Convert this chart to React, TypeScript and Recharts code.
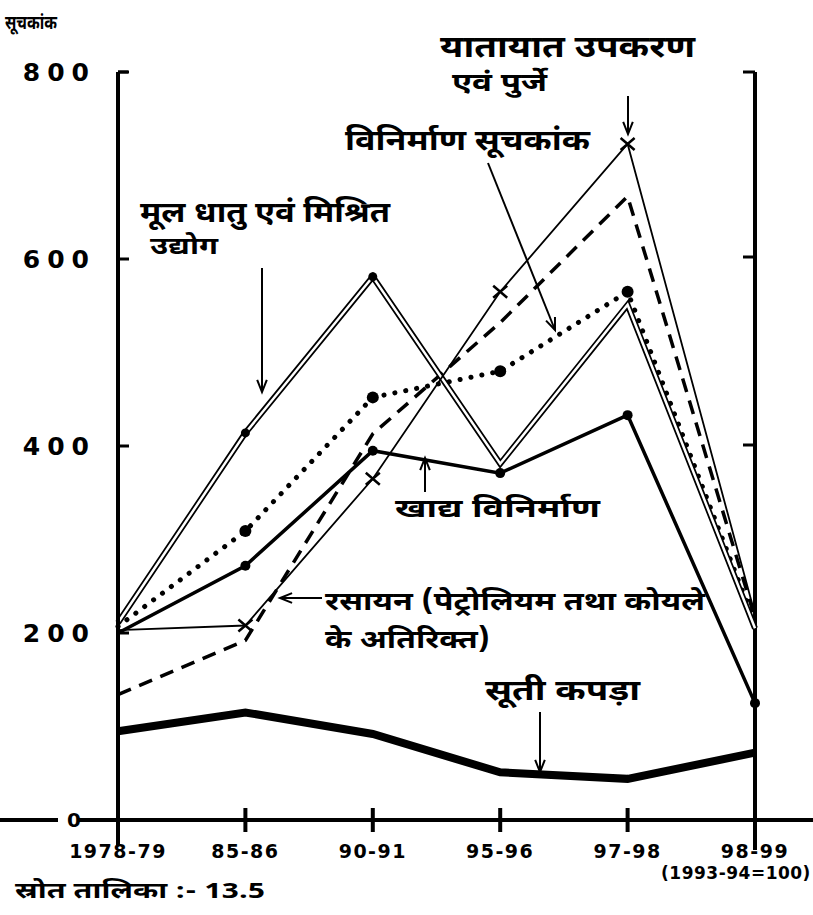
import React from 'react';
import { LineChart, Line, XAxis, YAxis, ReferenceLine } from 'recharts';

// index values, 1993-94 = 100
const years = ['1978-79', '85-86', '90-91', '95-96', '97-98', '98-99'];
const transport = [203, 208, 365, 565, 723, 220];
const chemicals = [134, 192, 413, 532, 667, 216];
const basicMetals = [211, 414, 581, 381, 551, 205];
const manufacturing = [207, 309, 452, 480, 565, 210];
const food = [200, 272, 395, 371, 433, 125];
const cotton = [95, 115, 92, 51, 44, 72];
const yTicks = [0, 200, 400, 600, 800];

const data = years.map((year, i) => ({
  year,
  transport: transport[i],
  chemicals: chemicals[i],
  basicMetals: basicMetals[i],
  basicMetalsInner: basicMetals[i],
  manufacturing: manufacturing[i],
  food: food[i],
  cotton: cotton[i],
}));

const HINDI = "'Noto Sans Devanagari', 'Lohit Devanagari', 'Noto Sans', sans-serif";
const NUM = "'DejaVu Sans', sans-serif";

const Cross = (props: any) => {
  const { cx, cy, index } = props;
  if (cx == null || index === 0 || index === 5) return <g key={index} />;
  return (
    <path key={index} d={`M${cx - 7},${cy - 6}L${cx + 7},${cy + 6}M${cx - 7},${cy + 6}L${cx + 7},${cy - 6}`}
      stroke="#000" strokeWidth={2.5} fill="none" />
  );
};

const dotAt = (skip: number[], r: number) => (props: any) => {
  const { cx, cy, index } = props;
  if (cx == null || skip.includes(index)) return <g key={index} />;
  return <circle key={index} cx={cx} cy={cy} r={r} fill="#000" />;
};

const YTick = (props: any) => {
  const { x, y, payload } = props;
  if (payload.value === 0) {
    return (
      <text x={x - 22} y={y + 7} textAnchor="middle" fontFamily={NUM} fontWeight="bold" fontSize={20}>0</text>
    );
  }
  return (
    <g>
      <text x={x} y={y + 9} textAnchor="end" fontFamily={NUM} fontWeight="bold" fontSize={25} letterSpacing={7}>
        {payload.value}
      </text>
      <line x1={x + 22} x2={x + 33} y1={y} y2={y} stroke="#000" strokeWidth={3} />
    </g>
  );
};

const XTick = (props: any) => {
  const { x, y, payload } = props;
  return (
    <g>
      <line x1={x} x2={x} y1={y - 38} y2={y - 14} stroke="#000" strokeWidth={4} />
      <text x={x} y={y + 12} textAnchor="middle" fontFamily={NUM} fontWeight="bold" fontSize={19} letterSpacing={1.5}>
        {payload.value}
      </text>
      {payload.value === '98-99' && (
        <text x={x - 19} y={y + 33} textAnchor="middle" fontFamily={NUM} fontWeight="bold" fontSize={17} letterSpacing={0.5}>
          (1993-94=100)
        </text>
      )}
    </g>
  );
};

function Arrow({ x1, y1, x2, y2 }: { x1: number; y1: number; x2: number; y2: number }) {
  const a = Math.atan2(y2 - y1, x2 - x1);
  const h = 13;
  const s = 0.38;
  const p1 = `${x2 - h * Math.cos(a - s)},${y2 - h * Math.sin(a - s)}`;
  const p2 = `${x2 - h * Math.cos(a + s)},${y2 - h * Math.sin(a + s)}`;
  return (
    <g stroke="#000" strokeWidth={2} fill="none">
      <line x1={x1} y1={y1} x2={x2} y2={y2} />
      <path d={`M${p1}L${x2},${y2}L${p2}`} />
    </g>
  );
}

function Label({ x, y, size, w, children }: any) {
  return (
    <text x={x} y={y} fontFamily={HINDI} fontWeight="bold" fontSize={size}
      textLength={w} lengthAdjust="spacingAndGlyphs">
      {children}
    </text>
  );
}

export default function App() {
  return (
    <div style={{ position: 'absolute', left: 0, top: 0, width: 813, height: 915, background: '#fff' }}>
      <LineChart width={813} height={915} data={data} margin={{ top: 72, right: 58, bottom: 35, left: 18 }}>
        <XAxis dataKey="year" axisLine={{ stroke: '#000', strokeWidth: 4 }} tickLine={false}
          tick={<XTick />} height={60} interval={0} tickMargin={20} />
        <YAxis domain={[0, 800]} ticks={yTicks} width={100} axisLine={{ stroke: '#000', strokeWidth: 4 }}
          tickLine={false} tickSize={0} tickMargin={22} tick={<YTick />} />
        <ReferenceLine x="98-99" stroke="#000" strokeWidth={4} />
        <Line dataKey="cotton" stroke="#000" strokeWidth={8} dot={false} isAnimationActive={false} />
        <Line dataKey="food" stroke="#000" strokeWidth={3.5} dot={dotAt([0], 5)} isAnimationActive={false} />
        <Line dataKey="manufacturing" stroke="#000" strokeWidth={5} strokeDasharray="0.1 11" strokeLinecap="round"
          dot={dotAt([0, 5], 6)} isAnimationActive={false} />
        <Line dataKey="chemicals" stroke="#000" strokeWidth={3.5} strokeDasharray="14 9" dot={false}
          isAnimationActive={false} />
        <Line dataKey="basicMetals" stroke="#000" strokeWidth={6} dot={false} isAnimationActive={false} />
        <Line dataKey="basicMetalsInner" stroke="#fff" strokeWidth={2.5} dot={dotAt([0, 3, 4, 5], 4.5)}
          isAnimationActive={false} />
        <Line dataKey="transport" stroke="#000" strokeWidth={1.8} dot={<Cross />} isAnimationActive={false} />
      </LineChart>
      <svg width={813} height={915} style={{ position: 'absolute', left: 0, top: 0, pointerEvents: 'none' }}>
        <line x1={0} x2={58} y1={820} y2={820} stroke="#000" strokeWidth={4} />
        <line x1={78} x2={118} y1={820} y2={820} stroke="#000" strokeWidth={4} />
        <line x1={755} x2={813} y1={820} y2={820} stroke="#000" strokeWidth={4} />
        <line x1={118} x2={118} y1={820} y2={845} stroke="#000" strokeWidth={4} />
        <line x1={755} x2={755} y1={820} y2={850} stroke="#000" strokeWidth={4} />
        <line x1={118} x2={128} y1={72} y2={72} stroke="#000" strokeWidth={3} />
        <line x1={743} x2={755} y1={72} y2={72} stroke="#000" strokeWidth={3} />
        <line x1={743} x2={755} y1={257} y2={257} stroke="#000" strokeWidth={3} />
        <line x1={743} x2={755} y1={445} y2={445} stroke="#000" strokeWidth={3} />

        <Label x={5} y={29} size={19} w={52}>सूचकांक</Label>
        <Label x={440} y={57} size={30} w={255}>यातायात उपकरण</Label>
        <Label x={452} y={91} size={26} w={95}>एवं पुर्जे</Label>
        <Label x={345} y={150} size={28} w={245}>विनिर्माण सूचकांक</Label>
        <Label x={140} y={222} size={28} w={250}>मूल धातु एवं मिश्रित</Label>
        <Label x={150} y={254} size={24} w={68}>उद्योग</Label>
        <Label x={395} y={517} size={26} w={205}>खाद्य विनिर्माण</Label>
        <Label x={325} y={610} size={26} w={380}>रसायन (पेट्रोलियम तथा कोयले</Label>
        <Label x={325} y={648} size={26} w={165}>के अतिरिक्त)</Label>
        <Label x={485} y={700} size={28} w={155}>सूती कपड़ा</Label>
        <Label x={15} y={898} size={22} w={250}>स्रोत तालिका :- 13.5</Label>

        <Arrow x1={628} y1={96} x2={628} y2={134} />
        <Arrow x1={488} y1={163} x2={555} y2={330} />
        <Arrow x1={262} y1={268} x2={262} y2={392} />
        <Arrow x1={425} y1={492} x2={425} y2={458} />
        <Arrow x1={322} y1={598} x2={280} y2={598} />
        <Arrow x1={540} y1={712} x2={540} y2={772} />
      </svg>
    </div>
  );
}
